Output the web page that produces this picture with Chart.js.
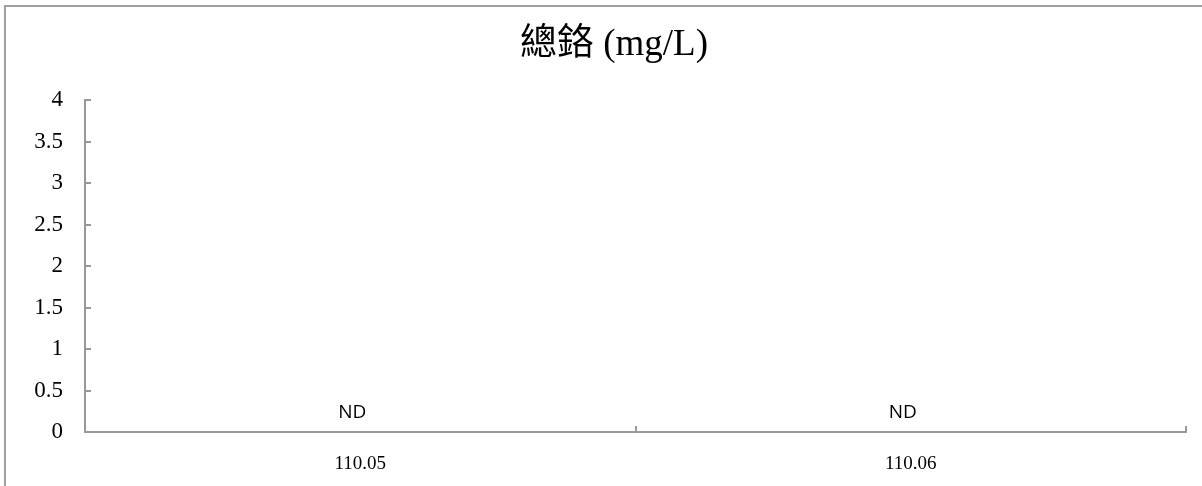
<!DOCTYPE html>
<html>
<head>
<meta charset="utf-8">
<title>總鉻 (mg/L)</title>
<script src="https://cdn.jsdelivr.net/npm/chart.js@4/dist/chart.umd.min.js"></script>
<style>
  html, body { margin: 0; padding: 0; background: #ffffff; }
  canvas { display: block; }
</style>
</head>
<body>
<canvas id="chart" width="1202" height="486"></canvas>
<script>
// Sampling months and total chromium results (not detected -> 0)
const categories = ['110.05', '110.06'];
const totalChromium = [0, 0];
const valueLabels = ['ND', 'ND'];

// Value axis range and its tick labels
const yMin = 0;
const yMax = 4;
const yStep = 0.5;
const yTickLabels = ['0', '0.5', '1', '1.5', '2', '2.5', '3', '3.5', '4'];

const chartTitle = '總鉻 (mg/L)';
const axisColor = '#999999';
const serif = '"Liberation Serif", "Times New Roman", "Noto Sans CJK TC", serif';

// Outer frame of the chart object and its title, centred on the frame
const framePlugin = {
  id: 'frame',
  beforeDraw(chart) {
    const ctx = chart.ctx;
    ctx.save();
    ctx.strokeStyle = '#a0a0a0';
    ctx.lineWidth = 2;
    ctx.beginPath();
    ctx.moveTo(5, chart.height + 5);
    ctx.lineTo(5, 6);
    ctx.lineTo(chart.width + 5, 6);
    ctx.stroke();

    ctx.font = '37px ' + serif;
    ctx.fillStyle = '#000000';
    ctx.textAlign = 'center';
    ctx.textBaseline = 'middle';
    ctx.fillText(chartTitle, chart.width / 2 + 13, 45);
    ctx.restore();
  }
};

// Text labels placed above each bar
const valueLabelPlugin = {
  id: 'valueLabels',
  afterDatasetsDraw(chart) {
    const ctx = chart.ctx;
    const meta = chart.getDatasetMeta(0);
    ctx.save();
    ctx.font = '19px "Open Sans", "Noto Sans", sans-serif';
    ctx.fillStyle = '#000000';
    ctx.textAlign = 'center';
    ctx.textBaseline = 'middle';
    meta.data.forEach((bar, i) => {
      ctx.fillText(valueLabels[i], bar.x - 8, bar.y - 19);
    });
    ctx.restore();
  }
};

new Chart(document.getElementById('chart'), {
  type: 'bar',
  data: {
    labels: categories,
    datasets: [{
      label: '總鉻',
      data: totalChromium,
      backgroundColor: 'rgba(0,0,0,0)',
      borderWidth: 0
    }]
  },
  options: {
    responsive: false,
    animation: false,
    devicePixelRatio: 1,
    layout: { padding: { left: 0, right: 16, top: 100, bottom: 0 } },
    plugins: {
      legend: { display: false },
      tooltip: { enabled: false },
      title: { display: false }
    },
    scales: {
      x: {
        grid: {
          offset: true,
          drawOnChartArea: false,
          tickLength: -6,
          color: axisColor,
          lineWidth: 2
        },
        border: { color: axisColor, width: 2 },
        ticks: {
          color: '#000000',
          padding: 27,
          maxRotation: 0,
          font: { family: serif, size: 19 }
        },
        afterFit(scale) { scale.height = 54; }
      },
      y: {
        min: yMin,
        max: yMax,
        grid: {
          drawOnChartArea: false,
          tickLength: -6,
          color: axisColor,
          lineWidth: 2
        },
        border: { color: axisColor, width: 2 },
        ticks: {
          stepSize: yStep,
          color: '#000000',
          padding: 28,
          font: { family: serif, size: 23 },
          callback: (value, index) => yTickLabels[index]
        },
        afterFit(scale) { scale.width = 85; }
      }
    }
  },
  plugins: [framePlugin, valueLabelPlugin]
});
</script>
</body>
</html>
